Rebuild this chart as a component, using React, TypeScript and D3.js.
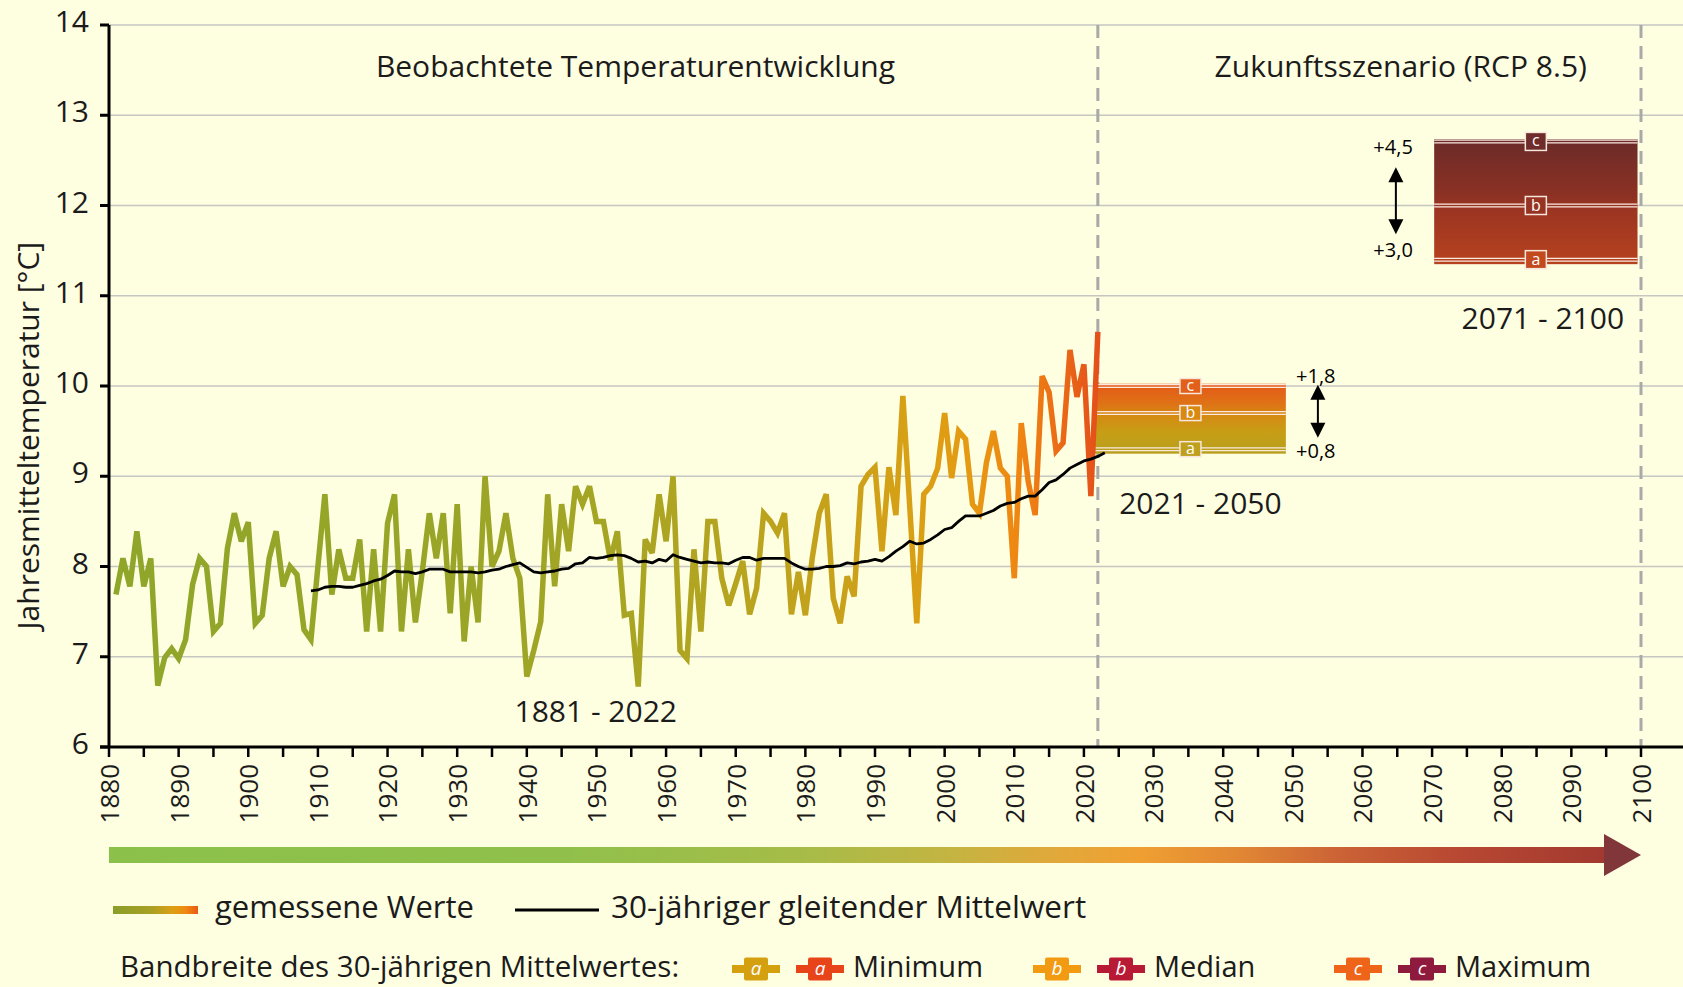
import React from "react";
import * as d3 from "d3";

const W = 1683;
const H = 987;
const FONT = "'Open Sans', 'Noto Sans', sans-serif";
const INK = "#1b1b1b";

// gemessene Jahresmitteltemperatur, 1881 - 2022 (°C)
const firstYear = 1881;
const measured = [
  7.69, 8.09, 7.78, 8.39, 7.78, 8.09, 6.68, 6.99, 7.09, 6.98,
  7.19, 7.8, 8.09, 8.0, 7.28, 7.37, 8.2, 8.59, 8.28, 8.49,
  7.37, 7.46, 8.09, 8.39, 7.78, 8.0, 7.91, 7.3, 7.19, 8.0,
  8.8, 7.69, 8.19, 7.87, 7.87, 8.3, 7.28, 8.19, 7.28, 8.48,
  8.8, 7.28, 8.19, 7.38, 7.95, 8.59, 8.09, 8.59, 7.48, 8.69,
  7.17, 8.0, 7.38, 9.0, 8.0, 8.17, 8.59, 8.09, 7.87, 6.78,
  7.07, 7.39, 8.8, 7.78, 8.69, 8.17, 8.89, 8.69, 8.89, 8.5,
  8.5, 8.07, 8.39, 7.46, 7.48, 6.67, 8.3, 8.15, 8.8, 8.28,
  9.0, 7.07, 6.98, 8.19, 7.28, 8.5, 8.5, 7.87, 7.57, 7.81,
  8.06, 7.47, 7.76, 8.59, 8.5, 8.37, 8.59, 7.47, 7.94, 7.46,
  8.1, 8.59, 8.8, 7.65, 7.37, 7.89, 7.67, 8.89, 9.02, 9.1,
  8.17, 9.1, 8.57, 9.89, 8.65, 7.37, 8.8, 8.89, 9.09, 9.7,
  8.98, 9.5, 9.41, 8.69, 8.59, 9.15, 9.5, 9.09, 9.0, 7.87,
  9.59, 8.94, 8.57, 10.11, 9.93, 9.28, 9.37, 10.4, 9.88, 10.24,
  8.78, 10.6,
];

// 30-jähriger gleitender Mittelwert, as drawn
const meanFirstYear = 1909;
const movingMean = [
  7.73, 7.74, 7.77, 7.78, 7.78, 7.77, 7.77, 7.79, 7.81, 7.84,
  7.86, 7.9, 7.95, 7.94, 7.94, 7.92, 7.94, 7.97, 7.97, 7.97,
  7.94, 7.94, 7.94, 7.94, 7.93, 7.94, 7.96, 7.97, 8.0, 8.02,
  8.04, 7.99, 7.94, 7.93, 7.94, 7.95, 7.97, 7.98, 8.03, 8.04,
  8.1, 8.09, 8.1, 8.12, 8.13, 8.12, 8.09, 8.05, 8.06, 8.04,
  8.08, 8.06, 8.13, 8.1, 8.08, 8.06, 8.04, 8.05, 8.04, 8.04,
  8.03, 8.07, 8.1, 8.1, 8.07, 8.09, 8.09, 8.09, 8.09, 8.04,
  8.0, 7.97, 7.97, 7.98, 8.0, 8.0, 8.01, 8.04, 8.03, 8.05,
  8.06, 8.08, 8.06, 8.11, 8.17, 8.22, 8.28, 8.25, 8.26, 8.3,
  8.35, 8.41, 8.43, 8.5, 8.56, 8.56, 8.56, 8.59, 8.62, 8.67,
  8.7, 8.71, 8.75, 8.78, 8.78, 8.85, 8.93, 8.96, 9.02, 9.09,
  9.13, 9.17, 9.19, 9.22, 9.26,
];

// Zukunftsszenario RCP 8.5
const periodLabels = ["2021 - 2050", "2071 - 2100"];
const periodFrom = [2021.6, 2070.3];
const periodTo = [2049, 2099.5];
const bandMin = [9.3, 11.4];
const bandMedian = [9.7, 12.0];
const bandMax = [10.0, 12.71];
const changeLow = ["+0,8", "+3,0"];
const changeHigh = ["+1,8", "+4,5"];

// legend
const bandKeys = ["a", "b", "c"];
const bandNames = ["Minimum", "Median", "Maximum"];
const nearColors = ["#D4A010", "#F29A12", "#EE6418"];
const farColors = ["#E8441A", "#B81A36", "#8E1A3E"];
const boxLabelColors = [
  ["#BFA01C", "#D98812", "#E3601A"],
  ["#C24A1E", "#973322", "#6E2C2A"],
];

const yTicks = [6, 7, 8, 9, 10, 11, 12, 13, 14];
const xLabelYears = d3.range(1880, 2101, 10);
const xTickYears = d3.range(1880, 2101, 5);

const x = d3.scaleLinear().domain([1880, 2100]).range([109, 1641]);
const y = d3.scaleLinear().domain([6, 14]).range([747, 25]);

const boxTop = (i: number) => y(bandMax[i] + 0.025);
const boxBottom = (i: number) => y(bandMin[i] - 0.05);

const App = () => {
  const points = measured.map((v, i) => [firstYear + i, v] as [number, number]);
  const meanPoints = movingMean.map((v, i) => [meanFirstYear + i, v] as [number, number]);
  const line = d3
    .line<[number, number]>()
    .x((d) => x(d[0]))
    .y((d) => y(d[1]));

  const plotRight = W;
  const arrowTip = x(2100);
  const arrowBase = arrowTip - 37;
  const row2 = 977;

  return (
    <svg
      width={W}
      height={H}
      style={{ position: "absolute", left: 0, top: 0, display: "block" }}
      fontFamily={FONT}
    >
      <defs>
        <linearGradient id="gMeasured" gradientUnits="userSpaceOnUse" x1={x(1881)} x2={x(2022)} y1={0} y2={0}>
          <stop offset="0" stopColor="#8FA62A" />
          <stop offset="0.35" stopColor="#9AA527" />
          <stop offset="0.5" stopColor="#A5A524" />
          <stop offset="0.63" stopColor="#B6A41F" />
          <stop offset="0.74" stopColor="#C9A11A" />
          <stop offset="0.81" stopColor="#D8A015" />
          <stop offset="0.87" stopColor="#E59A13" />
          <stop offset="0.92" stopColor="#EF8612" />
          <stop offset="0.96" stopColor="#EB6C16" />
          <stop offset="1" stopColor="#E4501A" />
        </linearGradient>
        <linearGradient id="gBox0" gradientUnits="userSpaceOnUse" x1={0} x2={0} y1={boxTop(0)} y2={boxBottom(0)}>
          <stop offset="0" stopColor="#E45818" />
          <stop offset="0.3" stopColor="#DE7416" />
          <stop offset="0.45" stopColor="#D58A12" />
          <stop offset="0.7" stopColor="#C79E16" />
          <stop offset="1" stopColor="#B8A01E" />
        </linearGradient>
        <linearGradient id="gBox1" gradientUnits="userSpaceOnUse" x1={0} x2={0} y1={boxTop(1)} y2={boxBottom(1)}>
          <stop offset="0" stopColor="#6B2B28" />
          <stop offset="0.45" stopColor="#8C3124" />
          <stop offset="0.55" stopColor="#9A3422" />
          <stop offset="1" stopColor="#B6421E" />
        </linearGradient>
        <linearGradient id="gArrow" gradientUnits="userSpaceOnUse" x1={x(1880)} x2={arrowTip} y1={0} y2={0}>
          <stop offset="0" stopColor="#8BC14B" />
          <stop offset="0.3" stopColor="#90C04B" />
          <stop offset="0.45" stopColor="#A6BC48" />
          <stop offset="0.55" stopColor="#C4B442" />
          <stop offset="0.62" stopColor="#E2A83A" />
          <stop offset="0.67" stopColor="#F0A032" />
          <stop offset="0.74" stopColor="#E08634" />
          <stop offset="0.8" stopColor="#CC6436" />
          <stop offset="0.88" stopColor="#B84832" />
          <stop offset="0.97" stopColor="#A43A30" />
          <stop offset="1" stopColor="#943634" />
        </linearGradient>
        <linearGradient id="gLegend" gradientUnits="userSpaceOnUse" x1={113} x2={198} y1={0} y2={0}>
          <stop offset="0" stopColor="#8A9E28" />
          <stop offset="0.45" stopColor="#A8A024" />
          <stop offset="0.7" stopColor="#DCA014" />
          <stop offset="0.85" stopColor="#F08A10" />
          <stop offset="1" stopColor="#E85A14" />
        </linearGradient>
      </defs>

      <rect x={0} y={0} width={W} height={H} fill="#FEFEE1" />

      {/* grid */}
      {yTicks.slice(1).map((t) => (
        <line key={t} x1={x(1880)} x2={plotRight} y1={y(t)} y2={y(t)} stroke="#C6C6C2" strokeWidth={1.5} />
      ))}

      {/* period separators */}
      {[2022, 2100].map((yr) => (
        <line
          key={yr}
          x1={x(yr)}
          x2={x(yr)}
          y1={y(14)}
          y2={y(6)}
          stroke="#A9A9A9"
          strokeWidth={3}
          strokeDasharray="13 8"
        />
      ))}

      {/* scenario boxes */}
      {periodLabels.map((lab, i) => {
        const x0 = x(periodFrom[i]);
        const x1 = x(periodTo[i]);
        const cx = (x0 + x1) / 2;
        const marks = [bandMin[i], bandMedian[i], bandMax[i]];
        const lh = i === 0 ? 15 : 18;
        return (
          <g key={lab}>
            <rect x={x0} y={boxTop(i)} width={x1 - x0} height={boxBottom(i) - boxTop(i)} fill={`url(#gBox${i})`} />
            {marks.map((v, j) => (
              <g key={j}>
                <line x1={x0} x2={x1} y1={y(v)} y2={y(v)} stroke="#FBE9E0" strokeWidth={4} />
                <line x1={x0} x2={x1} y1={y(v)} y2={y(v)} stroke={`url(#gBox${i})`} strokeWidth={1.5} />
                <rect
                  x={cx - 10.5}
                  y={y(v) - lh / 2}
                  width={21}
                  height={lh}
                  fill={boxLabelColors[i][j]}
                  stroke="#F6E6DC"
                  strokeWidth={1.5}
                />
                <text x={cx} y={y(v) + 5} textAnchor="middle" fontSize={16} fill="#fff">
                  {bandKeys[j]}
                </text>
              </g>
            ))}
          </g>
        );
      })}

      {/* change annotations */}
      {periodLabels.map((lab, i) => {
        const ax = i === 0 ? x(2053.6) : x(2064.8);
        const tx = i === 0 ? x(2053.3) : x(2064.4);
        const hiY = i === 0 ? boxTop(i) - 1 : boxTop(i) + 15;
        const loY = i === 0 ? boxBottom(i) + 4 : boxBottom(i) - 7;
        const a0 = i === 0 ? boxTop(i) + 1 : boxTop(i) + 28;
        const a1 = i === 0 ? boxBottom(i) - 16 : boxBottom(i) - 30;
        return (
          <g key={lab}>
            <text x={tx} y={hiY} textAnchor="middle" fontSize={20} fill="#000">
              {changeHigh[i]}
            </text>
            <text x={tx} y={loY} textAnchor="middle" fontSize={20} fill="#000">
              {changeLow[i]}
            </text>
            <line x1={ax} x2={ax} y1={a0 + 12} y2={a1 - 12} stroke="#000" strokeWidth={2} />
            <path d={`M${ax},${a0} L${ax - 7.5},${a0 + 15} L${ax + 7.5},${a0 + 15} Z`} fill="#000" />
            <path d={`M${ax},${a1} L${ax - 7.5},${a1 - 15} L${ax + 7.5},${a1 - 15} Z`} fill="#000" />
          </g>
        );
      })}

      {/* measured values and moving mean */}
      <path d={line(points) || ""} fill="none" stroke="url(#gMeasured)" strokeWidth={5.5} strokeLinejoin="miter" strokeMiterlimit={3} />
      <path d={line(meanPoints) || ""} fill="none" stroke="#000" strokeWidth={2.8} strokeLinejoin="round" />

      {/* axes */}
      <line x1={x(1880)} x2={x(1880)} y1={y(14)} y2={y(6)} stroke="#000" strokeWidth={3} />
      <line x1={x(1880) - 9} x2={plotRight} y1={y(6)} y2={y(6)} stroke="#000" strokeWidth={3} />
      {yTicks.map((t) => (
        <g key={t}>
          <line x1={x(1880) - 9} x2={x(1880)} y1={y(t)} y2={y(t)} stroke="#000" strokeWidth={3} />
          <text x={89} y={y(t) + 7} textAnchor="end" fontSize={30} fill={INK}>
            {t}
          </text>
        </g>
      ))}
      {xTickYears.map((yr) => (
        <line key={yr} x1={x(yr)} x2={x(yr)} y1={y(6)} y2={y(6) + 10} stroke="#000" strokeWidth={2.5} />
      ))}
      {xLabelYears.map((yr) => (
        <text
          key={yr}
          transform={`translate(${x(yr)},764) rotate(-90)`}
          textAnchor="end"
          dy="0.38em"
          fontSize={26}
          fill={INK}
        >
          {yr}
        </text>
      ))}
      <text transform={`translate(39,${y(9.45)}) rotate(-90)`} textAnchor="middle" fontSize={30} fill={INK}>
        Jahresmitteltemperatur [°C]
      </text>

      {/* headings */}
      <text x={x(1955.6)} y={77} textAnchor="middle" fontSize={30} fill={INK}>
        Beobachtete Temperaturentwicklung
      </text>
      <text x={x(2065.5)} y={77} textAnchor="middle" fontSize={30} fill={INK}>
        Zukunftsszenario (RCP 8.5)
      </text>
      <text x={x(1949.9)} y={722} textAnchor="middle" fontSize={30} fill={INK}>
        {`${firstYear} - ${firstYear + measured.length - 1}`}
      </text>
      <text x={(x(periodFrom[0]) + x(periodTo[0])) / 2 + 10} y={boxBottom(0) + 60} textAnchor="middle" fontSize={30} fill={INK}>
        {periodLabels[0]}
      </text>
      <text x={(x(periodFrom[1]) + x(periodTo[1])) / 2 + 7} y={boxBottom(1) + 65} textAnchor="middle" fontSize={30} fill={INK}>
        {periodLabels[1]}
      </text>

      {/* time arrow */}
      <rect x={x(1880)} y={847} width={arrowBase - x(1880)} height={16} fill="url(#gArrow)" />
      <path d={`M${arrowBase},834 L${arrowTip},855 L${arrowBase},876 Z`} fill="#81363A" />

      {/* legend */}
      <line x1={113} x2={198} y1={910} y2={910} stroke="url(#gLegend)" strokeWidth={8} />
      <text x={215} y={918} fontSize={31} fill={INK}>
        gemessene Werte
      </text>
      <line x1={515} x2={599} y1={910} y2={910} stroke="#000" strokeWidth={3} />
      <text x={611} y={918} fontSize={31.5} fill={INK}>
        30-jähriger gleitender Mittelwert
      </text>

      <text x={120} y={row2} fontSize={29.5} fill={INK}>
        Bandbreite des 30-jährigen Mittelwertes:
      </text>
      {bandKeys.map((k, i) => {
        const c0 = 756 + i * 301;
        return (
          <g key={k}>
            {[nearColors[i], farColors[i]].map((col, j) => {
              const cx = c0 + j * 64;
              return (
                <g key={j}>
                  <rect x={cx - 24} y={row2 - 12} width={48} height={8} fill={col} />
                  <rect x={cx - 12} y={row2 - 19.5} width={24} height={23} rx={2} fill={col} />
                  <text x={cx} y={row2 - 2} textAnchor="middle" fontSize={19} fontStyle="italic" fill="#fff">
                    {k}
                  </text>
                </g>
              );
            })}
            <text x={c0 + 97} y={row2} fontSize={29} fill={INK}>
              {bandNames[i]}
            </text>
          </g>
        );
      })}
    </svg>
  );
};

export default App;
